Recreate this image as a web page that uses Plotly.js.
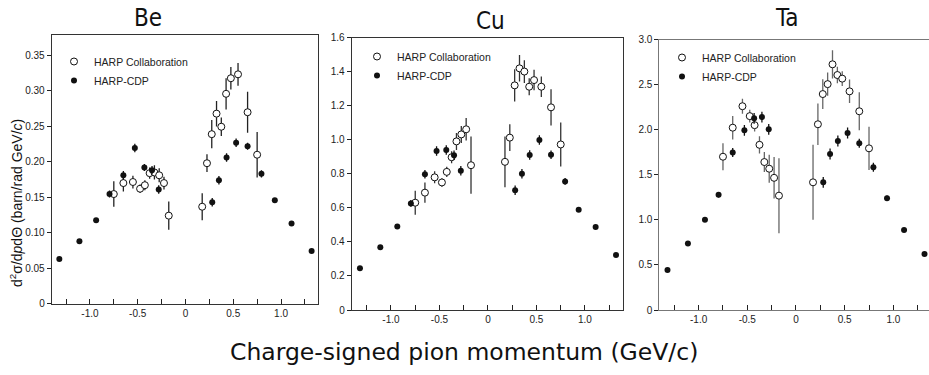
<!DOCTYPE html>
<html>
<head>
<meta charset="utf-8">
<script src="https://cdn.plot.ly/plotly-3.0.1.min.js"></script>
<style>html,body{margin:0;padding:0;background:#fff;}#chart{width:929px;height:375px;}</style>
</head>
<body>
<div id="chart"></div>
<script>
// ---- data ----
const panelNames = ['Be', 'Cu', 'Ta'];
const seriesNames = ['HARP Collaboration', 'HARP-CDP'];

const xOpen = [-0.75,-0.65,-0.55,-0.475,-0.425,-0.375,-0.325,-0.275,-0.225,-0.175,0.175,0.225,0.275,0.325,0.375,0.425,0.475,0.55,0.65,0.75];
const xCdp = [-1.32,-1.11,-0.935,-0.795,-0.65,-0.53,-0.43,-0.35,-0.28,0.28,0.35,0.43,0.53,0.65,0.795,0.935,1.11,1.32];

const beOpen = [0.1545,0.170,0.1715,0.162,0.167,0.184,0.185,0.181,0.170,0.124,0.1366,0.198,0.239,0.268,0.2495,0.296,0.318,0.3235,0.270,0.210];
const beOpenErr = [0.018,0.012,0.009,0.006,0.007,0.008,0.010,0.010,0.009,0.020,0.019,0.0125,0.020,0.018,0.013,0.022,0.016,0.016,0.029,0.032];
const beCdp = [0.0628,0.088,0.1174,0.1545,0.181,0.2195,0.192,0.188,0.161,0.143,0.174,0.206,0.227,0.222,0.183,0.1456,0.113,0.074];
const beCdpErr = [0.002,0.002,0.003,0.005,0.006,0.006,0.005,0.006,0.006,0.006,0.006,0.006,0.006,0.005,0.005,0.003,0.002,0.002];

const cuOpen = [0.630,0.689,0.779,0.749,0.811,0.897,0.990,1.031,1.061,0.850,0.870,1.012,1.319,1.419,1.400,1.311,1.350,1.311,1.190,0.972];
const cuOpenErr = [0.07,0.059,0.035,0.025,0.03,0.035,0.05,0.05,0.066,0.168,0.149,0.078,0.095,0.078,0.067,0.05,0.06,0.06,0.106,0.129];
const cuCdp = [0.245,0.368,0.491,0.626,0.797,0.934,0.940,0.909,0.818,0.703,0.800,0.910,0.998,0.912,0.755,0.589,0.487,0.323];
const cuCdpErr = [0.01,0.01,0.012,0.02,0.025,0.028,0.028,0.028,0.028,0.028,0.028,0.028,0.028,0.025,0.02,0.012,0.01,0.01];

const taOpen = [1.70,2.022,2.26,2.15,2.05,1.832,1.641,1.567,1.466,1.268,1.416,2.06,2.395,2.505,2.725,2.606,2.566,2.425,2.204,1.793];
const taOpenErr = [0.15,0.13,0.083,0.07,0.07,0.095,0.11,0.155,0.23,0.416,0.416,0.23,0.165,0.13,0.157,0.092,0.083,0.13,0.21,0.24];
const taCdp = [0.444,0.737,1.0,1.279,1.747,1.993,2.126,2.14,2.004,1.416,1.73,1.874,1.963,1.849,1.583,1.239,0.887,0.621];
const taCdpErr = [0.02,0.02,0.025,0.03,0.05,0.06,0.06,0.06,0.06,0.06,0.06,0.06,0.06,0.05,0.05,0.03,0.02,0.02];

const xTickVals = [-1.25,-1,-0.75,-0.5,-0.25,0,0.25,0.5,0.75,1,1.25];
const xTickText = ['','-1.0','','-0.5','','0','','0.5','','1.0',''];
const beYVals = [0,0.05,0.10,0.15,0.20,0.25,0.30,0.35];
const beYText = ['0','0.05','0.10','0.15','0.20','0.25','0.30','0.35'];
const cuYVals = [0,0.2,0.4,0.6,0.8,1.0,1.2,1.4,1.6];
const cuYText = ['0','0.2','0.4','0.6','0.8','1.0','1.2','1.4','1.6'];
const taYVals = [0,0.5,1.0,1.5,2.0,2.5,3.0];
const taYText = ['0','0.5','1.0','1.5','2.0','2.5','3.0'];

const xTitle = 'Charge-signed pion momentum (GeV/c)';
const yTitle = 'd<sup>2</sup>σ/d<i>p</i>dΘ (barn/rad GeV/<i>c</i>)';

// ---- layout geometry (pixels) ----
const W = 929, H = 375;
const px = v => v / W;
const py = v => (H - v) / H;

const panels = [
  {name: panelNames[0], open: beOpen, openErr: beOpenErr, cdp: beCdp, cdpErr: beCdpErr,
   yv: beYVals, yt: beYText, yr: [0, 0.379], xr: [-1.40, 1.39],
   left: 51.7, right: 318.3, top: 35, bottom: 303.5, barColor: '#222', frame: '#333',
   titleX: 148, titleY: 18, legX: 54, legY: 47},
  {name: panelNames[1], open: cuOpen, openErr: cuOpenErr, cdp: cuCdp, cdpErr: cuCdpErr,
   yv: cuYVals, yt: cuYText, yr: [0, 1.6], xr: [-1.405, 1.395],
   left: 351.7, right: 623.3, top: 37.5, bottom: 310, barColor: '#333', frame: '#333',
   titleX: 490, titleY: 21, legX: 357, legY: 42},
  {name: panelNames[2], open: taOpen, openErr: taOpenErr, cdp: taCdp, cdpErr: taCdpErr,
   yv: taYVals, yt: taYText, yr: [0, 3.0], xr: [-1.404, 1.361],
   left: 659.3, right: 928.5, top: 39.5, bottom: 310, barColor: '#666', frame: '#777',
   titleX: 786, titleY: 18, legX: 662, legY: 43}
];

const tickFont = {family: 'Liberation Sans, Arial, sans-serif', size: 10, color: '#222'};
const traces = [];
const layout = {
  width: W, height: H,
  margin: {l: 0, r: 0, t: 0, b: 0},
  paper_bgcolor: '#fff', plot_bgcolor: '#fff',
  showlegend: true,
  annotations: [],
  font: tickFont
};

panels.forEach((p, i) => {
  const s = i === 0 ? '' : String(i + 1);
  const xa = 'x' + s, ya = 'y' + s;
  const leg = 'legend' + s;
  traces.push({
    type: 'scatter', mode: 'markers', name: seriesNames[0],
    x: xOpen, y: p.open, xaxis: xa, yaxis: ya, legend: leg,
    error_y: {type: 'data', array: p.openErr, visible: true, thickness: 1.3, width: 0, color: p.barColor},
    marker: {symbol: 'circle', size: 7, color: '#fff', line: {color: '#111', width: 1}},
    cliponaxis: false
  });
  traces.push({
    type: 'scatter', mode: 'markers', name: seriesNames[1],
    x: xCdp, y: p.cdp, xaxis: xa, yaxis: ya, legend: leg,
    error_y: {type: 'data', array: p.cdpErr, visible: true, thickness: 1.3, width: 0, color: '#111'},
    marker: {symbol: 'circle', size: 6, color: '#111', line: {width: 0}},
    cliponaxis: false
  });
  layout['xaxis' + s] = {
    domain: [px(p.left), px(p.right)], anchor: ya, range: p.xr,
    tickmode: 'array', tickvals: xTickVals, ticktext: xTickText,
    ticks: 'inside', ticklen: 5, tickwidth: 1, tickcolor: '#222',
    showline: true, linecolor: p.frame, linewidth: 1, mirror: true,
    showgrid: false, zeroline: false, tickfont: tickFont
  };
  layout['yaxis' + s] = {
    domain: [py(p.bottom), py(p.top)], anchor: xa, range: p.yr,
    tickmode: 'array', tickvals: p.yv, ticktext: p.yt,
    ticks: 'outside', ticklen: 4, tickwidth: 1, tickcolor: '#222',
    showline: true, linecolor: p.frame, linewidth: 1, mirror: true,
    showgrid: false, zeroline: false, tickfont: tickFont
  };
  layout[leg] = {
    x: px(p.legX), y: py(p.legY), xanchor: 'left', yanchor: 'top',
    bgcolor: 'rgba(0,0,0,0)', borderwidth: 0,
    font: {family: 'Liberation Sans, Arial, sans-serif', size: 10.5, color: '#222'},
    itemwidth: 30, tracegroupgap: 0
  };
  layout.annotations.push({
    xref: 'paper', yref: 'paper', x: px(p.titleX), y: py(p.titleY),
    xanchor: 'center', yanchor: 'middle', showarrow: false, text: p.name,
    font: {family: 'DejaVu Sans Condensed, Liberation Sans Narrow, DejaVu Sans, sans-serif', size: 24, color: '#111'}
  });
});

layout.annotations.push({
  xref: 'paper', yref: 'paper', x: px(464), y: py(352),
  xanchor: 'center', yanchor: 'middle', showarrow: false, text: xTitle,
  font: {family: 'DejaVu Sans, sans-serif', size: 23.5, color: '#111'}
});
layout.annotations.push({
  xref: 'paper', yref: 'paper', x: px(16), y: py(203),
  xanchor: 'center', yanchor: 'middle', showarrow: false, textangle: -90, text: yTitle,
  font: {family: 'Liberation Sans, Arial, sans-serif', size: 14, color: '#111'}
});

Plotly.newPlot('chart', traces, layout, {staticPlot: true, displayModeBar: false});
</script>
</body>
</html>
